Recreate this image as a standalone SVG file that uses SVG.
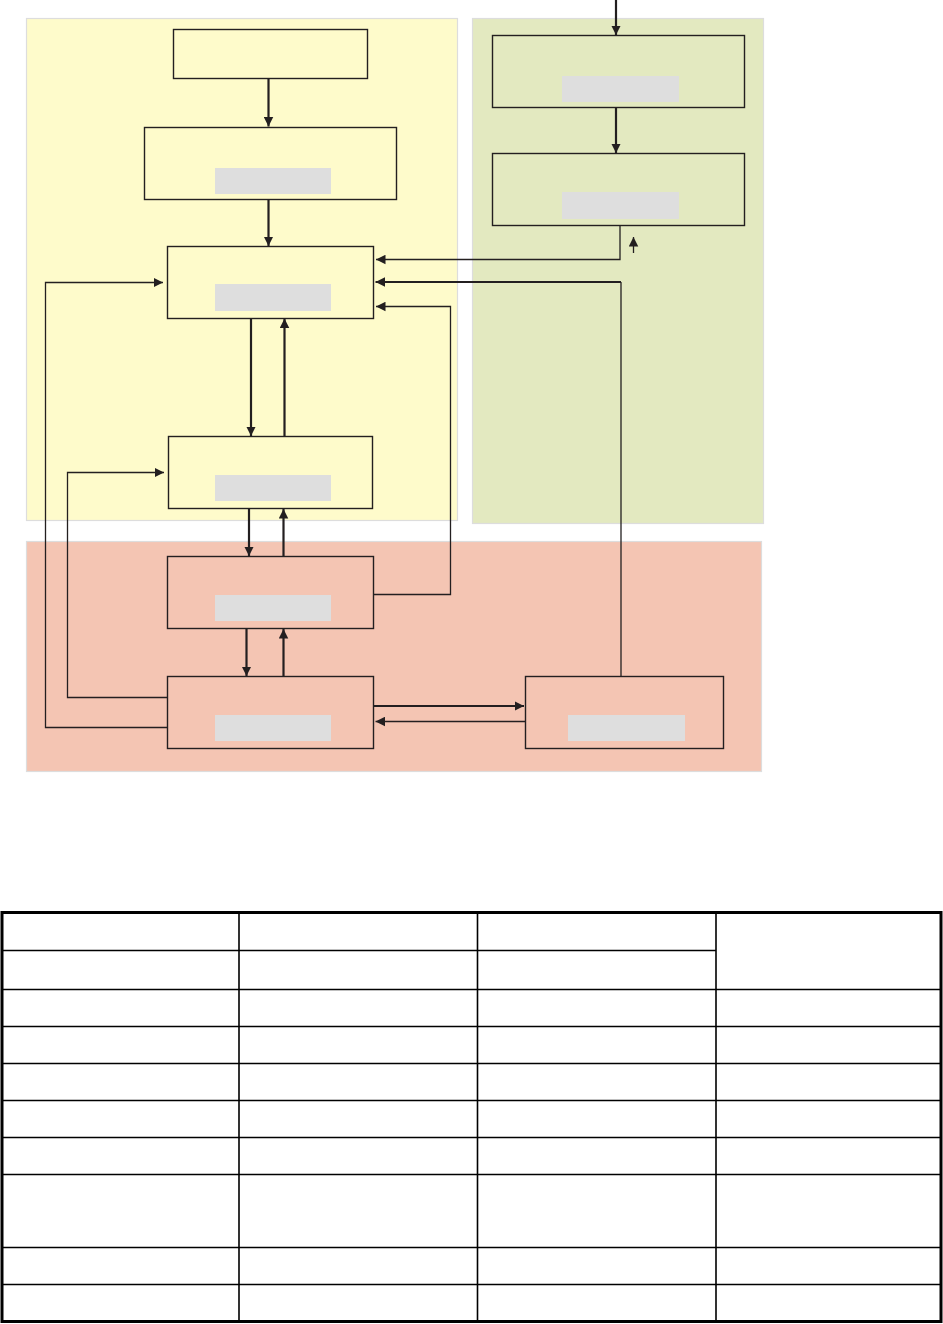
<svg xmlns="http://www.w3.org/2000/svg" width="943" height="1324" viewBox="0 0 943 1324">
<style>
.reg{stroke:#DDDDDD;stroke-width:1.2}
.node{fill:none;stroke:#231F20;stroke-width:1.4}
.lbl{fill:#DEDEDE}
.thick{fill:none;stroke:#231F20;stroke-width:2.2}
.thin{fill:none;stroke:#231F20;stroke-width:1.3}
.tb{stroke:#000;stroke-width:1.6;fill:none}
</style>
<defs>
<marker id="ah" viewBox="0 0 10 10" refX="10" refY="5" markerWidth="9.5" markerHeight="10" markerUnits="userSpaceOnUse" orient="auto">
<path d="M0,0 L10,5 L0,10 z" fill="#231F20"/>
</marker>
</defs>
<rect width="943" height="1324" fill="#FFFFFF"/>
<g id="regions">
<rect class="reg" x="26.5" y="18.5" width="431" height="502" fill="#FEFBCB"/>
<rect class="reg" x="472.5" y="18.5" width="291" height="505" fill="#E3E9C0"/>
<rect class="reg" x="26.5" y="541.5" width="735" height="230" fill="#F4C5B3"/>
</g>
<g id="nodes">
<g id="n1"><rect class="node" x="173.5" y="29.5" width="194" height="49"/></g>
<g id="n2"><rect class="node" x="144.5" y="127.5" width="252" height="72"/><rect class="lbl" x="215" y="168" width="116" height="26"/></g>
<g id="n3"><rect class="node" x="167.5" y="246.5" width="206" height="72"/><rect class="lbl" x="215" y="284" width="116" height="27"/></g>
<g id="n4"><rect class="node" x="168.5" y="436.5" width="204" height="72"/><rect class="lbl" x="215" y="475" width="116" height="26"/></g>
<g id="n5"><rect class="node" x="167.5" y="556.5" width="206" height="72"/><rect class="lbl" x="215" y="595" width="116" height="26"/></g>
<g id="n6"><rect class="node" x="167.5" y="676.5" width="206" height="72"/><rect class="lbl" x="215" y="715" width="116" height="26"/></g>
<g id="n7"><rect class="node" x="525.5" y="676.5" width="198" height="72"/><rect class="lbl" x="568" y="715" width="117" height="26"/></g>
<g id="g1"><rect class="node" x="492.5" y="35.5" width="252" height="72"/><rect class="lbl" x="562" y="76" width="117" height="26"/></g>
<g id="g2"><rect class="node" x="492.5" y="153.5" width="252" height="72"/><rect class="lbl" x="562" y="192" width="117" height="27"/></g>
</g>
<g id="connectors">
<path class="thick" d="M268.5,79 V126.5" marker-end="url(#ah)"/>
<path class="thick" d="M268.5,200 V246" marker-end="url(#ah)"/>
<path class="thick" d="M616,0 V35" marker-end="url(#ah)"/>
<path class="thick" d="M616,108 V153" marker-end="url(#ah)"/>
<path class="thin" d="M620,226 V259.5 H376" marker-end="url(#ah)"/>
<path class="thin" d="M633.5,253 V237" marker-end="url(#ah)"/>
<path class="thin" d="M621,676 V282"/>
<path class="thick" d="M621,282 H375.5" marker-end="url(#ah)"/>
<path class="thin" d="M374,594.5 H450.5 V306.5 H376" marker-end="url(#ah)"/>
<path class="thick" d="M251,319 V436" marker-end="url(#ah)"/>
<path class="thick" d="M284.5,436 V318.5" marker-end="url(#ah)"/>
<path class="thick" d="M249,509 V556" marker-end="url(#ah)"/>
<path class="thick" d="M283.5,556 V509" marker-end="url(#ah)"/>
<path class="thick" d="M246.5,629 V676" marker-end="url(#ah)"/>
<path class="thick" d="M283.5,676 V629" marker-end="url(#ah)"/>
<path class="thin" d="M167,697.5 H67.5 V472.5 H164" marker-end="url(#ah)"/>
<path class="thin" d="M167,727.5 H45.5 V282.5 H163" marker-end="url(#ah)"/>
<path class="thick" d="M374,706 H524" marker-end="url(#ah)"/>
<path class="thin" d="M525,721.5 H375.5" marker-end="url(#ah)"/>
</g>
<g id="table">
<path class="tb" d="M239,912 V1322 M477.5,912 V1322 M716,912 V1322"/>
<path class="tb" d="M2,950.5 H716 M2,989.5 H941 M2,1026.5 H941 M2,1063.5 H941 M2,1100.5 H941 M2,1137.5 H941 M2,1174.5 H941 M2,1247.5 H941 M2,1284.5 H941"/>
<rect x="2" y="912.5" width="939" height="409" fill="none" stroke="#000" stroke-width="3"/>
</g>
</svg>
